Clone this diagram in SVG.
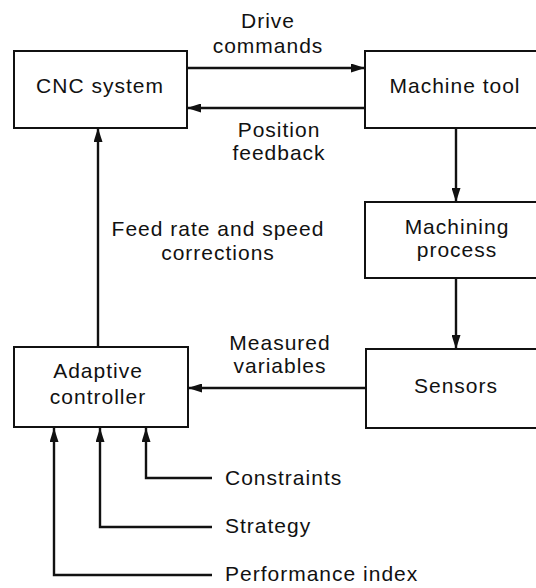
<svg xmlns="http://www.w3.org/2000/svg" width="536" height="588" viewBox="0 0 536 588">
  <defs>
    <marker id="head" viewBox="0 0 14 9" refX="14" refY="4.5" markerWidth="14" markerHeight="9" markerUnits="userSpaceOnUse" orient="auto">
      <path d="M0,0 L14,4.5 L0,9 Z" fill="#111"/>
    </marker>
    <style>
      .box { fill: #fff; stroke: #111; stroke-width: 2; }
      .lbl { font-family: "Liberation Sans", Arial, sans-serif; font-size: 21px; letter-spacing: 1px; fill: #111; text-anchor: middle; }
      .side { text-anchor: start; }
      .wire { fill: none; stroke: #111; stroke-width: 2.4; }
      .arr { marker-end: url(#head); }
    </style>
  </defs>
  <rect width="536" height="588" fill="#fff"/>

  <g id="cnc-system">
    <rect class="box" x="14" y="51" width="173" height="77"/>
    <text class="lbl" x="100" y="93">CNC system</text>
  </g>

  <g id="machine-tool">
    <rect class="box" x="365" y="51" width="185" height="77"/>
    <text class="lbl" x="455" y="93">Machine tool</text>
  </g>

  <g id="machining-process">
    <rect class="box" x="365" y="202" width="185" height="76"/>
    <text class="lbl" x="457" y="234">Machining</text>
    <text class="lbl" x="457" y="257">process</text>
  </g>

  <g id="sensors">
    <rect class="box" x="366" y="349" width="185" height="79"/>
    <text class="lbl" x="456" y="393">Sensors</text>
  </g>

  <g id="adaptive-controller">
    <rect class="box" x="14" y="347" width="174" height="80"/>
    <text class="lbl" x="98" y="378">Adaptive</text>
    <text class="lbl" x="98" y="404">controller</text>
  </g>

  <g id="connectors">
    <!-- CNC system <-> machine tool -->
    <line class="wire arr" x1="187" y1="68" x2="365" y2="68"/>
    <line class="wire arr" x1="365" y1="108" x2="187" y2="108"/>
    <!-- process chain on the right -->
    <line class="wire arr" x1="456" y1="128" x2="456" y2="202"/>
    <line class="wire arr" x1="456" y1="278" x2="456" y2="349"/>
    <!-- sensors back to the controller -->
    <line class="wire arr" x1="366" y1="388" x2="188" y2="388"/>
    <!-- corrections up to the CNC system -->
    <line class="wire arr" x1="98" y1="347" x2="98" y2="128"/>
    <!-- external inputs -->
    <polyline class="wire arr" points="212,478 146,478 146,428"/>
    <polyline class="wire arr" points="212,527 100,527 100,428"/>
    <polyline class="wire arr" points="212,575 54,575 54,428"/>
  </g>

  <g id="labels">
    <text class="lbl" x="268" y="28">Drive</text>
    <text class="lbl" x="268" y="53">commands</text>
    <text class="lbl" x="279" y="137">Position</text>
    <text class="lbl" x="279" y="160">feedback</text>
    <text class="lbl" x="218" y="236">Feed rate and speed</text>
    <text class="lbl" x="218" y="260">corrections</text>
    <text class="lbl" x="280" y="350">Measured</text>
    <text class="lbl" x="280" y="373">variables</text>
    <text class="lbl side" x="225" y="485">Constraints</text>
    <text class="lbl side" x="225" y="533">Strategy</text>
    <text class="lbl side" x="225" y="581">Performance index</text>
  </g>
</svg>
